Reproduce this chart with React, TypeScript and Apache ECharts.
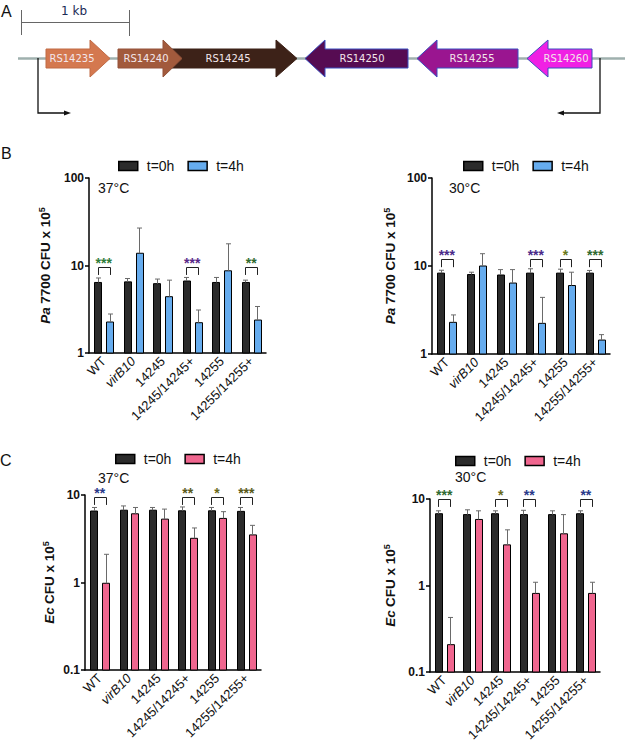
import React, { useEffect, useRef } from "react";
import * as echarts from "echarts";

// ---------- data ----------
const categories = ["WT", "virB10", "14245", "14245/14245+", "14255", "14255/14255+"];

const pa37_t0 = [6.4, 6.5, 6.2, 6.65, 6.4, 6.4];
const pa37_t0_err = [7.2, 7.1, 7.0, 7.3, 7.3, 6.8];
const pa37_t4 = [2.26, 13.8, 4.4, 2.22, 8.7, 2.38];
const pa37_t4_err = [2.79, 26.8, 6.8, 3.1, 17.7, 3.4];

const pa30_t0 = [8.3, 8.0, 7.9, 8.3, 8.3, 8.3];
const pa30_t0_err = [8.95, 8.5, 9.1, 9.3, 9.2, 8.9];
const pa30_t4 = [2.29, 10.0, 6.4, 2.23, 6.0, 1.44];
const pa30_t4_err = [2.78, 13.8, 9.1, 4.4, 8.5, 1.66];

const ec37_t0 = [6.56, 6.7, 6.7, 6.6, 6.6, 6.5];
const ec37_t0_err = [7.2, 7.5, 7.2, 7.3, 7.2, 7.2];
const ec37_t4 = [0.98, 6.1, 5.3, 3.2, 5.4, 3.5];
const ec37_t4_err = [2.1, 7.2, 6.9, 4.2, 6.45, 4.5];

const ec30_t0 = [6.76, 6.6, 6.76, 6.6, 6.6, 6.76];
const ec30_t0_err = [7.3, 7.5, 7.3, 7.4, 7.3, 7.3];
const ec30_t4 = [0.207, 5.8, 2.95, 0.81, 3.96, 0.81];
const ec30_t4_err = [0.427, 7.3, 4.4, 1.09, 6.6, 1.09];

const sigPa37 = ["***", "", "", "***", "", "**"];
const sigPa30 = ["***", "", "", "***", "*", "***"];
const sigEc37 = ["**", "", "", "**", "*", "***"];
const sigEc30 = ["***", "", "*", "**", "", "**"];

// bracket heights (data units): [top, leg end]
const bracketPa37 = [9.6, 7.8];
const bracketPa30 = [12, 9.7];
const bracketEc37 = [9.5, 7.7];
const bracketEc30 = [10, 8.1];

const geneNames = ["RS14235", "RS14240", "RS14245", "RS14250", "RS14255", "RS14260"];

// ---------- styles ----------
const FONT = "'Liberation Sans', Arial, Helvetica, sans-serif";
const DARK = "#2b2b2b";
const BLUE = "#66acee";
const PINK = "#f0668f";
const ERR = "#6a6a6a";
const BAR_W = 7;
const BAR_OFF = 5.95;
const STAR_COLORS: Record<string, string[]> = {
  pa37: ["#2f7d3a", "", "", "#5a2a8a", "", "#2f6a2f"],
  pa30: ["#4a2a8a", "", "", "#4a2a8a", "#6a7a1a", "#2f6a2f"],
  ec37: ["#2a3a8a", "", "", "#5a5a1a", "#6a6a1a", "#5a5a1a"],
  ec30: ["#2f6a2f", "", "#6a6a1a", "#2a3a8a", "", "#2a3a8a"],
};

const geneLayout = [
  { x0: 46, xh: 90, xt: 110, color: "#d4784f", border: "#c06a45", tx: 72 },
  { x0: 163, xh: 276, xt: 297, color: "#3d2218", border: "#3d2218", tx: 228 },
  { x0: 118, xh: 163, xt: 182, color: "#a25a3c", border: "#94533a", tx: 146 },
  { x0: 408, xh: 325, xt: 305, color: "#560c52", border: "#3b4fc0", tx: 362 },
  { x0: 518, xh: 437, xt: 417, color: "#9a1590", border: "#3b4fc0", tx: 472 },
  { x0: 592, xh: 548, xt: 527, color: "#f020e4", border: "#3b4fc0", tx: 566 },
];
const geneOrder = [0, 2, 1, 3, 4, 5];

function geneGraphics() {
  const els: any[] = [];
  els.push({ type: "line", shape: { x1: 18, y1: 58.5, x2: 625, y2: 58.5 }, style: { stroke: "#9fb0ae", lineWidth: 2.5 } });
  geneLayout.forEach((g, k) => {
    const name = geneNames[geneOrder[k]];
    const pts = [
      [g.x0, 49], [g.xh, 49], [g.xh, 40], [g.xt, 58.5], [g.xh, 77], [g.xh, 68], [g.x0, 68],
    ];
    els.push({ type: "polygon", shape: { points: pts }, style: { fill: g.color, stroke: g.border, lineWidth: 1 } });
    els.push({
      type: "text", x: g.tx, y: 58.5,
      style: { text: name, fill: "#f3e6ea", font: "10px 'DejaVu Sans', Verdana, sans-serif", align: "center", verticalAlign: "middle" },
    });
  });
  // promoters
  els.push({ type: "polyline", shape: { points: [[38, 58], [38, 113], [66, 113]] }, style: { stroke: "#111", lineWidth: 1.3, fill: null } });
  els.push({ type: "polygon", shape: { points: [[64, 110.5], [71, 113], [64, 115.5]] }, style: { fill: "#111" } });
  els.push({ type: "polyline", shape: { points: [[600, 58], [600, 113], [562, 113]] }, style: { stroke: "#111", lineWidth: 1.3, fill: null } });
  els.push({ type: "polygon", shape: { points: [[564, 110.5], [557, 113], [564, 115.5]] }, style: { fill: "#111" } });
  // scale bar
  els.push({ type: "line", shape: { x1: 21, y1: 22.5, x2: 129, y2: 22.5 }, style: { stroke: "#666", lineWidth: 1 } });
  els.push({ type: "line", shape: { x1: 21.5, y1: 10, x2: 21.5, y2: 35 }, style: { stroke: "#666", lineWidth: 1 } });
  els.push({ type: "line", shape: { x1: 129.5, y1: 10, x2: 129.5, y2: 36 }, style: { stroke: "#666", lineWidth: 1 } });
  els.push({ type: "text", x: 74, y: 11, style: { text: "1 kb", fill: "#1a2a55", font: "12px 'DejaVu Sans', Verdana, sans-serif", align: "center", verticalAlign: "middle" } });
  return els;
}

function textEl(t: string, x: number, y: number, size: number, weight = "normal") {
  return { type: "text", x, y, style: { text: t, fill: "#111", font: `${weight} ${size}px ${FONT}`, align: "left", verticalAlign: "middle" } };
}

function barSeries(gi: number, name: string, vals: number[], color: string, side: number) {
  return {
    type: "custom", name, xAxisIndex: gi, yAxisIndex: gi, z: 2, silent: true,
    itemStyle: { color, borderColor: "#000", borderWidth: 1 },
    data: vals.map((v, i) => [i, v]),
    encode: { x: 0, y: 1 },
    renderItem: (params: any, api: any) => {
      const p = api.coord([api.value(0), api.value(1)]);
      const bottom = params.coordSys.y + params.coordSys.height;
      const xc = p[0] + side * BAR_OFF;
      const x = Math.round(xc - BAR_W / 2) + 0.5;
      return {
        type: "rect",
        shape: { x, y: p[1], width: BAR_W, height: bottom - p[1] },
        style: { fill: color, stroke: "#000", lineWidth: 1 },
      };
    },
  };
}

function errSeries(gi: number, vals: number[], errs: number[], side: number) {
  return {
    type: "custom", xAxisIndex: gi, yAxisIndex: gi, clip: false, z: 3, silent: true,
    data: vals.map((v, i) => [i, v, errs[i]]),
    encode: { x: 0, y: [1, 2] },
    renderItem: (params: any, api: any) => {
      const i = api.value(0);
      const p0 = api.coord([i, api.value(1)]);
      const p1 = api.coord([i, api.value(2)]);
      const x = Math.round(p0[0] + side * BAR_OFF) + 0.5;
      return {
        type: "group",
        children: [
          { type: "line", shape: { x1: x, y1: p0[1], x2: x, y2: p1[1] }, style: { stroke: ERR, lineWidth: 1 } },
          { type: "line", shape: { x1: x - 2.5, y1: p1[1], x2: x + 2.5, y2: p1[1] }, style: { stroke: ERR, lineWidth: 1 } },
        ],
      };
    },
  };
}

function sigSeries(gi: number, sig: string[], br: number[], colors: string[]) {
  const idx = sig.map((s, i) => (s ? i : -1)).filter((i) => i >= 0);
  return {
    type: "custom", xAxisIndex: gi, yAxisIndex: gi, clip: false, z: 4, silent: true,
    data: idx.map((i) => [i, br[0], br[1]]),
    encode: { x: 0, y: [1, 2] },
    renderItem: (params: any, api: any) => {
      const i = api.value(0);
      const top = api.coord([i, api.value(1)]);
      const leg = api.coord([i, api.value(2)]);
      const xl = Math.round(top[0] - BAR_OFF) + 0.5;
      const xr = Math.round(top[0] + BAR_OFF) + 0.5;
      const yt = Math.round(top[1]) + 0.5;
      return {
        type: "group",
        children: [
          { type: "polyline", shape: { points: [[xl, leg[1]], [xl, yt], [xr, yt], [xr, leg[1]]] }, style: { stroke: "#222", lineWidth: 1, fill: null } },
          {
            type: "text", x: top[0], y: yt - 5,
            style: { text: sig[i], fill: colors[i] || "#2a3a8a", font: `bold 14px ${FONT}`, align: "center", verticalAlign: "middle" },
          },
        ],
      };
    },
  };
}

const grids = [
  { left: 89, top: 178, width: 177, height: 175 },
  { left: 432, top: 178, width: 178, height: 176 },
  { left: 85, top: 495, width: 176, height: 175 },
  { left: 430, top: 499, width: 170, height: 173 },
];

function xAxis(gi: number) {
  return {
    type: "category", gridIndex: gi, data: categories,
    axisLine: { lineStyle: { color: "#000", width: 1.5 } },
    axisTick: { alignWithLabel: true, length: 4, lineStyle: { color: "#000", width: 1.5 } },
    axisLabel: {
      interval: 0, rotate: 45, fontSize: 13, color: "#111", margin: 6, fontFamily: FONT,
      formatter: (v: string) => (v === "virB10" ? "{i|virB10}" : v),
      rich: { i: { fontStyle: "italic", fontSize: 13, color: "#111", fontFamily: FONT } },
    },
  };
}

function yAxis(gi: number, min: number, max: number, nameRich: string, gap: number) {
  return {
    type: "log", logBase: 10, gridIndex: gi, min, max,
    name: nameRich, nameLocation: "middle", nameRotate: 90, nameGap: gap,
    nameTextStyle: {
      fontFamily: FONT,
      rich: {
        i: { fontStyle: "italic", fontWeight: "bold", fontSize: 13.5, color: "#111", fontFamily: FONT },
        n: { fontWeight: "bold", fontSize: 13.5, color: "#111", fontFamily: FONT },
        s: { fontWeight: "bold", fontSize: 9, color: "#111", fontFamily: FONT, padding: [0, 0, 8, 0] },
      },
    },
    splitLine: { show: false },
    axisLine: { show: true, lineStyle: { color: "#000", width: 1.5 } },
    axisTick: { show: true, length: 4, lineStyle: { color: "#000", width: 1.5 } },
    axisLabel: {
      fontSize: 12, fontWeight: "bold", color: "#111", margin: 5, fontFamily: FONT,
      formatter: (v: number) => (v < 1 ? v.toFixed(1) : String(Math.round(v))),
    },
  };
}

function legend(left: number, top: number, c4: string) {
  return {
    left, top, padding: 0, itemWidth: 19, itemHeight: 9, itemGap: 13, icon: "rect",
    textStyle: { fontSize: 14, color: "#111", fontFamily: FONT, padding: [0, 0, 0, 4] },
    data: [
      { name: "t=0h", itemStyle: { color: DARK, borderColor: "#000", borderWidth: 1.5 } },
      { name: "t=4h", itemStyle: { color: c4, borderColor: "#000", borderWidth: 1.5 } },
    ],
    selectedMode: false,
  };
}

export default function App() {
  const ref = useRef<HTMLDivElement>(null);
  useEffect(() => {
    if (!ref.current) return;
    const chart = echarts.init(ref.current, undefined, { renderer: "svg" });
    const paName = "{i|Pa} {n|7700 CFU x 10}{s|5}";
    const ecName = "{i|Ec} {n|CFU x 10}{s|5}";
    chart.setOption({
      animation: false,
      backgroundColor: "#fff",
      textStyle: { fontFamily: FONT },
      grid: grids,
      legend: [legend(118, 159, BLUE), legend(463, 159, BLUE), legend(115, 452, PINK), legend(455, 454, PINK)],
      xAxis: [xAxis(0), xAxis(1), xAxis(2), xAxis(3)],
      yAxis: [
        yAxis(0, 1, 100, paName, 35), yAxis(1, 1, 100, paName, 33),
        yAxis(2, 0.1, 10, ecName, 27), yAxis(3, 0.1, 10, ecName, 31),
      ],
      series: [
        barSeries(0, "t=0h", pa37_t0, DARK, -1), barSeries(0, "t=4h", pa37_t4, BLUE, 1),
        errSeries(0, pa37_t0, pa37_t0_err, -1), errSeries(0, pa37_t4, pa37_t4_err, 1),
        sigSeries(0, sigPa37, bracketPa37, STAR_COLORS.pa37),
        barSeries(1, "t=0h", pa30_t0, DARK, -1), barSeries(1, "t=4h", pa30_t4, BLUE, 1),
        errSeries(1, pa30_t0, pa30_t0_err, -1), errSeries(1, pa30_t4, pa30_t4_err, 1),
        sigSeries(1, sigPa30, bracketPa30, STAR_COLORS.pa30),
        barSeries(2, "t=0h", ec37_t0, DARK, -1), barSeries(2, "t=4h", ec37_t4, PINK, 1),
        errSeries(2, ec37_t0, ec37_t0_err, -1), errSeries(2, ec37_t4, ec37_t4_err, 1),
        sigSeries(2, sigEc37, bracketEc37, STAR_COLORS.ec37),
        barSeries(3, "t=0h", ec30_t0, DARK, -1), barSeries(3, "t=4h", ec30_t4, PINK, 1),
        errSeries(3, ec30_t0, ec30_t0_err, -1), errSeries(3, ec30_t4, ec30_t4_err, 1),
        sigSeries(3, sigEc30, bracketEc30, STAR_COLORS.ec30),
      ],
      graphic: [
        ...geneGraphics(),
        textEl("A", 1, 11, 16),
        textEl("B", 1, 153, 16),
        textEl("C", 0, 460, 16),
        textEl("37°C", 98, 188, 14),
        textEl("30°C", 449, 188, 14),
        textEl("37°C", 98, 478, 14),
        textEl("30°C", 455, 477, 14),
      ],
    });
    return () => chart.dispose();
  }, []);
  return <div ref={ref} style={{ position: "fixed", left: 0, top: 0, width: 625, height: 749 }} />;
}
